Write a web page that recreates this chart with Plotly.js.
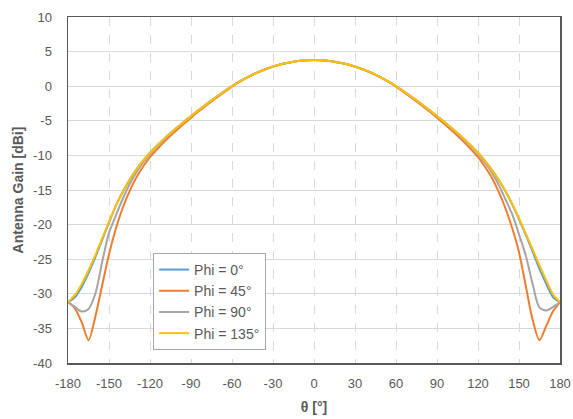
<!DOCTYPE html>
<html>
<head>
<meta charset="utf-8">
<script src="https://cdn.plot.ly/plotly-3.0.1.min.js"></script>
<style>html,body{margin:0;padding:0;background:#fff;}#chart{width:573px;height:419px;}</style>
</head>
<body>
<div id="chart"></div>
<script>
const theta = [-180,-175,-170,-165,-160,-155,-150,-145,-140,-135,-130,-125,-120,-115,-110,-105,-100,-95,-90,-85,-80,-75,-70,-65,-60,-55,-50,-45,-40,-35,-30,-25,-20,-15,-10,-5,0,5,10,15,20,25,30,35,40,45,50,55,60,65,70,75,80,85,90,95,100,105,110,115,120,125,130,135,140,145,150,155,160,165,170,175,180];

const phi0 = [-31.2,-30.5,-29.0,-27.0,-24.7,-22.2,-19.7,-17.3,-15.3,-13.55,-12.05,-10.75,-9.62,-8.6,-7.65,-6.77,-5.93,-5.12,-4.33,-3.53,-2.78,-2.05,-1.34,-0.65,0.02,0.61,1.16,1.66,2.1,2.5,2.84,3.13,3.36,3.54,3.68,3.75,3.78,3.75,3.68,3.54,3.36,3.13,2.84,2.5,2.1,1.66,1.16,0.61,0.02,-0.65,-1.34,-2.05,-2.78,-3.53,-4.33,-5.12,-5.93,-6.77,-7.65,-8.6,-9.62,-10.75,-12.05,-13.5,-15.15,-17.05,-19.2,-21.5,-23.9,-26.4,-28.6,-30.5,-31.2];

const phi45 = [-31.2,-32.1,-34.1,-36.7,-33.3,-28.8,-24.3,-20.6,-17.6,-15.2,-13.2,-11.6,-10.25,-9.15,-8.12,-7.17,-6.27,-5.4,-4.55,-3.73,-2.95,-2.2,-1.47,-0.75,-0.05,0.58,1.14,1.65,2.09,2.49,2.83,3.12,3.35,3.53,3.67,3.75,3.78,3.75,3.67,3.53,3.35,3.12,2.83,2.49,2.09,1.65,1.14,0.58,-0.05,-0.75,-1.47,-2.2,-2.95,-3.73,-4.55,-5.4,-6.27,-7.17,-8.12,-9.15,-10.25,-11.6,-13.2,-15.2,-17.6,-20.5,-24.0,-28.9,-33.8,-36.7,-34.6,-32.5,-31.2];

const phi90 = [-31.2,-31.9,-32.55,-32.2,-30.0,-25.4,-21.2,-18.7,-16.3,-14.2,-12.45,-11.0,-9.8,-8.75,-7.75,-6.83,-5.97,-5.14,-4.34,-3.54,-2.79,-2.06,-1.35,-0.66,0.01,0.6,1.15,1.65,2.1,2.5,2.84,3.13,3.36,3.54,3.68,3.75,3.78,3.75,3.68,3.54,3.36,3.13,2.84,2.5,2.1,1.65,1.15,0.6,0.01,-0.66,-1.35,-2.06,-2.79,-3.54,-4.34,-5.14,-5.97,-6.83,-7.75,-8.75,-9.8,-11.0,-12.45,-14.2,-16.3,-18.5,-21.4,-24.5,-28.6,-32.0,-32.4,-31.9,-31.2];

const phi135 = [-31.2,-30.2,-28.6,-26.6,-24.4,-22.0,-19.6,-17.3,-15.3,-13.55,-12.05,-10.75,-9.62,-8.6,-7.65,-6.77,-5.93,-5.12,-4.33,-3.53,-2.78,-2.05,-1.34,-0.65,0.02,0.61,1.16,1.66,2.1,2.5,2.84,3.13,3.36,3.54,3.68,3.75,3.78,3.75,3.68,3.54,3.36,3.13,2.84,2.5,2.1,1.66,1.16,0.61,0.02,-0.65,-1.34,-2.05,-2.78,-3.53,-4.33,-5.12,-5.93,-6.77,-7.65,-8.6,-9.62,-10.75,-12.05,-13.5,-15.1,-17.0,-19.1,-21.3,-23.6,-25.9,-28.1,-30.1,-31.2];

const seriesNames = ['Phi = 0°','Phi = 45°','Phi = 90°','Phi = 135°'];
const seriesValues = [phi0, phi45, phi90, phi135];
const seriesColors = ['#5B9BD5','#ED7D31','#A5A5A5','#FFC000'];

const xTicks = [-180,-150,-120,-90,-60,-30,0,30,60,90,120,150,180];
const yTicks = [10,5,0,-5,-10,-15,-20,-25,-30,-35,-40];

const traces = seriesValues.map((v,i)=>({
  x: theta, y: v, name: seriesNames[i], type:'scatter', mode:'lines',
  line:{color:seriesColors[i], width:2, shape:'spline', smoothing:0.8}
}));

const fontFam = '"Liberation Sans", Arial, sans-serif';
const layout = {
  width:573, height:419,
  margin:{l:68, r:13, t:17, b:56},
  paper_bgcolor:'#ffffff', plot_bgcolor:'#ffffff',
  font:{family:fontFam, color:'#595959', size:13},
  showlegend:true,
  legend:{x:0.173, y:0.318, xanchor:'left', yanchor:'top', bgcolor:'#ffffff',
    bordercolor:'#a6a6a6', borderwidth:1, font:{size:14, color:'#595959', family:fontFam}},
  xaxis:{range:[-180,180], tickvals:xTicks, ticktext:xTicks.map(String),
    showgrid:true, gridcolor:'#d9d9d9', griddash:'dash', gridwidth:1,
    zeroline:false, showline:true, linecolor:'#595959', linewidth:1.5, mirror:true,
    ticks:'', ticklabelstandoff:8, tickfont:{size:13, color:'#595959'},
    title:{text:'<b>θ [°]</b>', font:{size:14, color:'#595959'}, standoff:12}},
  yaxis:{range:[-40,10], tickvals:yTicks, ticktext:yTicks.map(String),
    showgrid:true, gridcolor:'#d9d9d9', gridwidth:1,
    zeroline:false, showline:true, linecolor:'#595959', linewidth:1.5, mirror:true,
    ticks:'', ticklabelstandoff:12, tickfont:{size:13, color:'#595959'},
    title:{text:'<b>Antenna Gain [dBi]</b>', font:{size:14, color:'#595959'}, standoff:6}}
};

Plotly.newPlot('chart', traces, layout, {displayModeBar:false, staticPlot:true});
</script>
</body>
</html>
